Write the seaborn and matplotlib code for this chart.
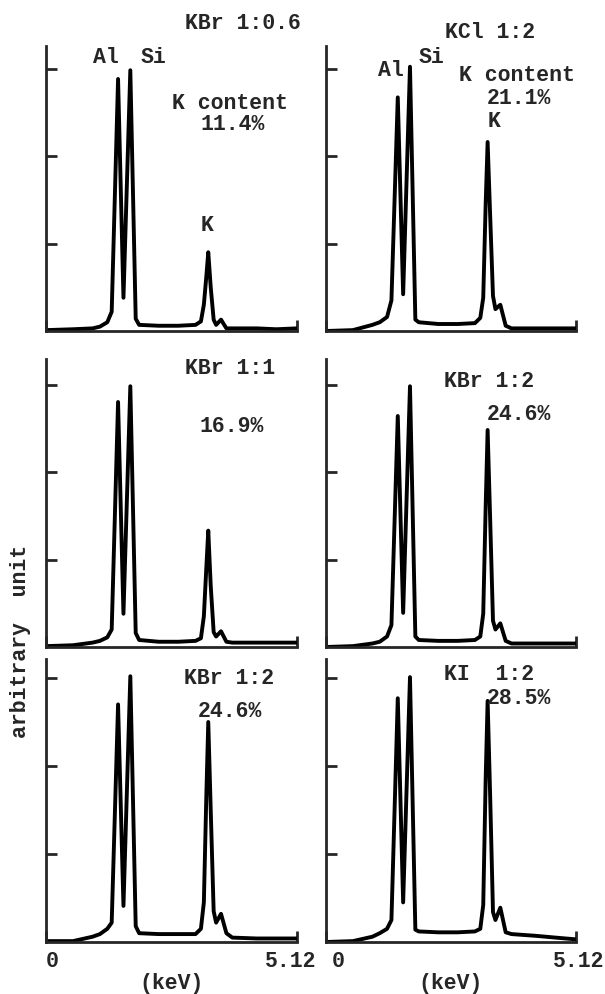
import matplotlib.pyplot as plt
import seaborn as sns
from matplotlib.transforms import ScaledTranslation

# energy grid (keV)
energy_kev = [0.00, 0.55, 0.95, 1.10, 1.25, 1.34, 1.47, 1.58, 1.72, 1.83, 1.90,
              2.30, 2.70, 3.05, 3.16, 3.22, 3.27, 3.31, 3.36, 3.42, 3.47, 3.57,
              3.68, 3.80, 4.30, 4.70, 5.12]

# intensities (arbitrary unit) for each sample
kbr_06 = [0.01, 0.02, 0.03, 0.05, 0.10, 0.22, 2.88, 0.38, 2.98, 0.14, 0.07,
          0.06, 0.06, 0.07, 0.11, 0.30, 0.62, 0.90, 0.50, 0.13, 0.07, 0.13,
          0.03, 0.03, 0.03, 0.02, 0.03]
kcl_2 = [0.00, 0.01, 0.07, 0.10, 0.16, 0.35, 2.67, 0.42, 3.02, 0.13, 0.10,
         0.08, 0.08, 0.09, 0.15, 0.38, 1.45, 2.16, 1.35, 0.40, 0.25, 0.30,
         0.06, 0.03, 0.03, 0.03, 0.03]
kbr_1 = [0.01, 0.02, 0.05, 0.07, 0.11, 0.20, 2.80, 0.38, 2.98, 0.16, 0.08,
         0.06, 0.06, 0.07, 0.10, 0.35, 0.90, 1.33, 0.70, 0.17, 0.12, 0.18,
         0.06, 0.05, 0.05, 0.05, 0.05]
kbr_2a = [0.00, 0.01, 0.04, 0.06, 0.12, 0.25, 2.64, 0.39, 2.98, 0.12, 0.08,
          0.07, 0.07, 0.08, 0.12, 0.38, 1.60, 2.48, 1.50, 0.30, 0.20, 0.27,
          0.07, 0.04, 0.04, 0.04, 0.04]
kbr_2b = [0.01, 0.01, 0.06, 0.09, 0.15, 0.22, 2.70, 0.41, 3.02, 0.18, 0.10,
          0.09, 0.09, 0.09, 0.15, 0.45, 1.65, 2.50, 1.50, 0.35, 0.22, 0.32,
          0.10, 0.05, 0.04, 0.04, 0.04]
ki_2 = [0.00, 0.01, 0.06, 0.10, 0.15, 0.25, 2.77, 0.45, 3.01, 0.14, 0.12,
        0.11, 0.11, 0.12, 0.15, 0.42, 1.85, 2.74, 1.70, 0.34, 0.25, 0.39,
        0.11, 0.09, 0.07, 0.05, 0.03]

spectra = [kbr_06, kcl_2, kbr_1, kbr_2a, kbr_2b, ki_2]
sample_titles = ["KBr 1:0.6", "KCl 1:2", "KBr 1:1", "KBr 1:2", "KBr 1:2", "KI  1:2"]
k_contents = ["11.4%", "21.1%", "16.9%", "24.6%", "24.6%", "28.5%"]
x_tick_labels = ["0", "5.12"]

sns.set_style("ticks")
plt.rcParams["font.family"] = ["Liberation Mono", "DejaVu Sans Mono"]
plt.rcParams["font.weight"] = "bold"
fs = 15.5

W, H = 605, 995
fig = plt.figure(figsize=(W / 100, H / 100), dpi=100)

# panel placement in pixels
col_left = [46, 326]
col_width = [251, 250]
rows = [(332, 285, 87.5), (648, 288, 87.5), (943, 283, 88.0)]
# horizontal nudges (px) of the "0" and "5.12" labels per column
label_shift = [(6, -6), (12, 3)]

# label positions (data coords) per panel
title_pos = [(2.83, 3.52), (2.44, 3.42), (2.83, 3.20), (2.42, 3.05), (2.81, 3.01), (2.42, 3.05)]
pct_pos = [(3.16, 2.37), (3.30, 2.67), (3.14, 2.53), (3.30, 2.67), (3.10, 2.63), (3.30, 2.78)]
extra_labels = {
    0: [("Al", 0.95, 3.14), ("Si", 1.92, 3.14), ("K content", 2.56, 2.61), ("K", 3.16, 1.22)],
    1: [("Al", 1.07, 2.99), ("Si", 1.90, 3.14), ("K content", 2.73, 2.93), ("K", 3.30, 2.41)],
}

for i, vals in enumerate(spectra):
    r, c = divmod(i, 2)
    bottom_px, height_px, px_per_unit = rows[r]
    rect = [col_left[c] / W, 1 - bottom_px / H, col_width[c] / W, height_px / H]
    ax = fig.add_axes(rect)
    sns.lineplot(x=energy_kev, y=vals, ax=ax, color="black", linewidth=2.8)
    ax.set_xlim(0, 5.12)
    ax.set_ylim(0, height_px / px_per_unit)
    sns.despine(ax=ax)
    for s in ["left", "bottom"]:
        ax.spines[s].set_linewidth(2.0)
    ax.set_yticks([1, 2, 3])
    ax.set_yticklabels([])
    ax.set_xticks([0, 5.12])
    ax.tick_params(direction="in", length=8, width=2.0)
    if r == 2:
        ax.set_xticklabels(x_tick_labels, fontsize=fs, fontweight="bold")
        ax.tick_params(axis="x", pad=6)
        for lbl, dx in zip(ax.get_xticklabels(), label_shift[c]):
            lbl.set_transform(lbl.get_transform() + ScaledTranslation(dx / 100, 0, fig.dpi_scale_trans))
        ax.set_xlabel("(keV)", fontsize=fs, fontweight="bold")
        ax.xaxis.label.set_va("center")
        ax.xaxis.set_label_coords(0.5, -(984 - bottom_px) / height_px)
    else:
        ax.set_xticklabels([])
    ax.set_ylabel("")

    tx, ty = title_pos[i]
    ax.text(tx, ty, sample_titles[i], fontsize=fs, fontweight="bold",
            va="center", ha="left", clip_on=False)
    px, py = pct_pos[i]
    ax.text(px, py, k_contents[i], fontsize=fs, fontweight="bold",
            va="center", ha="left", clip_on=False)
    for label, lx, ly in extra_labels.get(i, []):
        ax.text(lx, ly, label, fontsize=fs, fontweight="bold",
                va="center", ha="left", clip_on=False)

fig.text(21 / W, 1 - 641 / H, "arbitrary  unit", rotation=90, fontsize=fs,
         fontweight="bold", ha="center", va="center")

fig.savefig("out.png", dpi=100)
